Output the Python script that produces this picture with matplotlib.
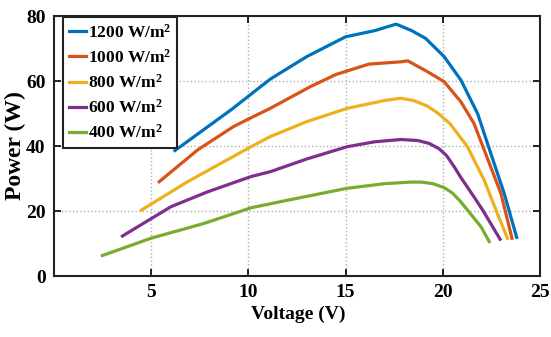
import matplotlib
matplotlib.use("Agg")
import matplotlib.pyplot as plt

labels = ["1200 W/m$^\\mathbf{2}$", "1000 W/m$^\\mathbf{2}$", "800 W/m$^\\mathbf{2}$",
          "600 W/m$^\\mathbf{2}$", "400 W/m$^\\mathbf{2}$"]
colors = ["#0072BD", "#D95319", "#EDB120", "#7E2F8E", "#77AC30"]

v1200 = [6.22, 9.1, 11.13, 13.0, 15.0, 16.5, 17.6, 18.4, 19.12, 20.07, 20.93, 21.79, 22.47, 23.16, 23.8]
p1200 = [38.6, 51.1, 60.6, 67.5, 73.6, 75.5, 77.5, 75.5, 73.1, 67.5, 60.3, 50.0, 37.7, 25.4, 11.9]

v1000 = [5.41, 7.39, 9.24, 10.14, 11.13, 13.2, 14.5, 16.2, 17.84, 18.2, 19.2, 20.07, 20.93, 21.6, 22.13, 22.99, 23.56]
p1000 = [29.0, 38.8, 46.0, 48.7, 51.6, 58.3, 62.0, 65.2, 65.9, 66.2, 62.9, 59.8, 53.6, 47.0, 38.8, 25.4, 11.6]

v800 = [4.5, 6.87, 8.59, 10.14, 11.13, 13.0, 15.09, 17.0, 17.84, 18.5, 19.2, 19.73, 20.35, 21.27, 22.13, 22.8, 23.33]
p800 = [20.3, 29.0, 34.7, 39.8, 42.9, 47.5, 51.6, 54.0, 54.7, 54.0, 52.3, 50.2, 47.0, 39.8, 29.5, 19.3, 11.6]

v600 = [3.52, 6.01, 7.9, 10.14, 11.13, 13.0, 15.09, 16.5, 17.84, 18.7, 19.3, 19.8, 20.2, 20.6, 20.93, 21.6, 22.05, 22.95]
p600 = [12.3, 21.3, 25.9, 30.6, 32.1, 36.0, 39.8, 41.3, 42.0, 41.7, 40.8, 39.2, 37.0, 33.5, 30.3, 24.4, 20.3, 11.3]

v400 = [2.49, 4.98, 7.73, 10.14, 12.0, 15.09, 17.0, 18.35, 18.9, 19.5, 20.07, 20.5, 20.9, 21.27, 21.96, 22.39]
p400 = [6.3, 11.6, 16.2, 21.0, 23.3, 27.0, 28.4, 28.9, 28.9, 28.4, 27.2, 25.5, 23.0, 20.3, 15.2, 10.6]

voltages = [v1200, v1000, v800, v600, v400]
powers = [p1200, p1000, p800, p600, p400]

xticks = [5, 10, 15, 20, 25]
yticks = [0, 20, 40, 60, 80]

plt.rcParams['font.family'] = ['Liberation Serif', 'DejaVu Serif']
plt.rcParams['font.weight'] = 'bold'
plt.rcParams['mathtext.fontset'] = 'custom'
plt.rcParams['mathtext.bf'] = 'Liberation Serif:bold'
plt.rcParams['mathtext.rm'] = 'Liberation Serif:bold'
plt.rcParams['mathtext.default'] = 'bf'

fig = plt.figure(figsize=(5.51, 3.37), dpi=100)
ax = fig.add_axes([0.098, 0.181, 0.882, 0.7715])

for v, p, c, lab in zip(voltages, powers, colors, labels):
    ax.plot(v, p, color=c, linewidth=2.3, label=lab, solid_joinstyle='round')

ax.set_xlim(0, 25)
ax.set_ylim(0, 80)
ax.set_xticks(xticks)
ax.set_yticks(yticks)
ax.grid(True, linestyle=':', color='#b0b0b0', linewidth=1.0)
ax.tick_params(direction='in', top=True, right=True, length=5, width=1.2,
               labelsize=14, pad=6)
for lbl in ax.get_xticklabels() + ax.get_yticklabels():
    lbl.set_fontweight('bold')
for s in ax.spines.values():
    s.set_linewidth(1.5)
    s.set_color('#222222')

ax.set_xlabel("Voltage (V)", fontsize=14, fontweight='bold')
ax.xaxis.set_label_coords(0.503, -0.115)
ax.set_ylabel("Power (W)", fontsize=17, fontweight='bold')
ax.yaxis.set_label_coords(-0.058, 0.5)

leg = ax.legend(loc='upper left', bbox_to_anchor=(0.018, 0.995), borderaxespad=0.0,
                frameon=True, fancybox=False, framealpha=1.0,
                edgecolor='#222222', handlelength=1.0, handletextpad=0.1,
                labelspacing=0.42, borderpad=0.35,
                prop={'family': 'Liberation Serif', 'weight': 'bold', 'size': 12.5})
leg.get_frame().set_linewidth(1.5)

fig.savefig("out.png", dpi=100)
